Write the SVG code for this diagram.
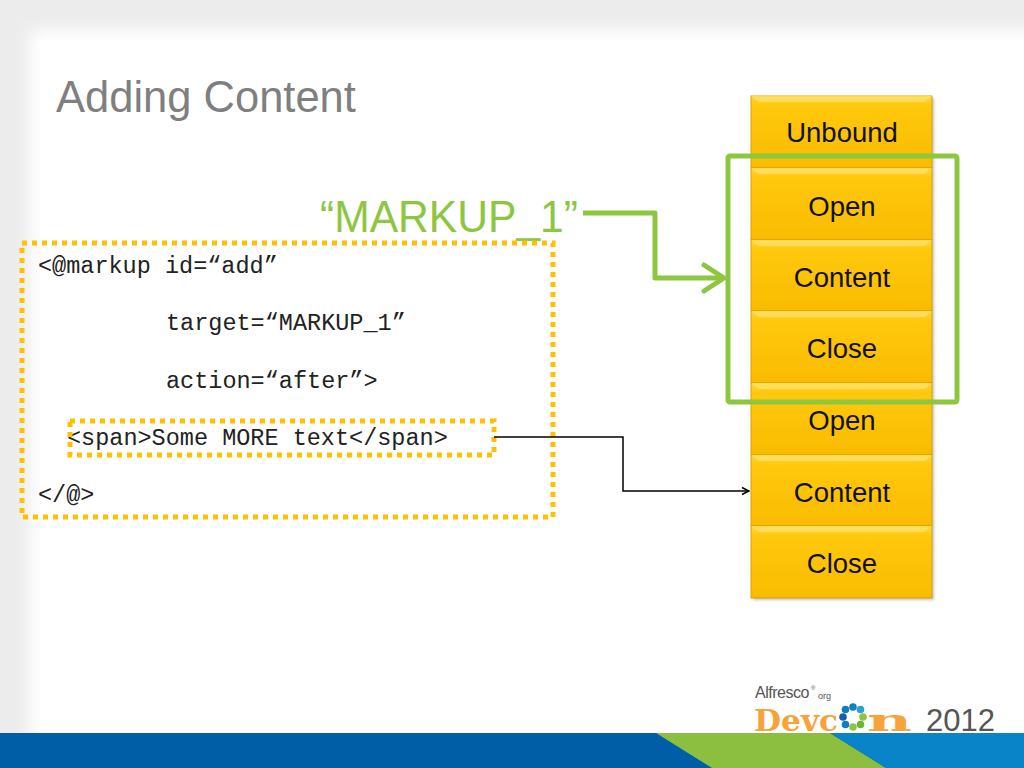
<svg xmlns="http://www.w3.org/2000/svg" width="1024" height="768" viewBox="0 0 1024 768">
<defs>
<linearGradient id="cell" x1="0" y1="0" x2="0" y2="1">
<stop offset="0" stop-color="#ffd84a"/>
<stop offset="0.12" stop-color="#ffc90e"/>
<stop offset="1" stop-color="#f9bb00"/>
</linearGradient>
<filter id="soft" x="-5%" y="-5%" width="110%" height="110%"><feGaussianBlur stdDeviation="8"/></filter>
<filter id="shadow" x="-10%" y="-10%" width="120%" height="120%"><feGaussianBlur stdDeviation="1.5"/></filter>
<marker id="blk" markerWidth="10" markerHeight="10" refX="9" refY="5" orient="auto" markerUnits="userSpaceOnUse">
<path d="M2,1.5 L9,5 L2,8.5" fill="none" stroke="#000" stroke-width="1.5"/>
</marker>
<style>
.code{font-family:"Liberation Mono","DejaVu Sans Mono",monospace;font-size:23.5px;fill:#222}
.cellt{font-family:"Liberation Sans",Arial,sans-serif;font-size:27.5px;fill:#111;text-anchor:middle}
.cellr{fill:url(#cell);stroke:#d9a400;stroke-width:1}
.bevel{fill:#ffe066;opacity:0.8}
.dots{fill:none;stroke:#ffc000;stroke-width:5;stroke-dasharray:5 5}
.logo{font-family:"Liberation Sans",Arial,sans-serif;fill:#555}
.dev{font-family:"DejaVu Serif","Liberation Serif",serif;font-weight:bold;font-size:30px;fill:#f7a23b}
</style>
</defs>
<rect x="0" y="0" width="1024" height="768" fill="#ececec"/>
<rect x="30" y="30" width="1010" height="720" fill="#ffffff" filter="url(#soft)"/>
<rect x="40" y="40" width="990" height="700" fill="#ffffff"/>

<g id="bottom-band">
<rect x="0" y="733" width="1024" height="35" fill="#005ea6"/>
<polygon points="656,733 830,733 886,768 712,768" fill="#8cbf3f"/>
<polygon points="830,733 1024,733 1024,768 886,768" fill="#0a84c8"/>
</g>

<g id="logo">
<text class="logo" x="755" y="698" font-size="16" letter-spacing="-0.5">Alfresco</text>
<text class="logo" x="811" y="690" font-size="6">®</text>
<text class="logo" x="818" y="699" font-size="9">org</text>
<text class="dev" x="754" y="731" textLength="84" lengthAdjust="spacingAndGlyphs">Devc</text>
<g id="gear" transform="translate(853,717)">
<circle cx="0" cy="-10" r="3.8" fill="#0c7fc0"/>
<circle cx="7.5" cy="-7.5" r="3.8" fill="#2a9fd8"/>
<circle cx="10" cy="0" r="3.8" fill="#8cc63f"/>
<circle cx="7.5" cy="7.5" r="3.8" fill="#6cb33f"/>
<circle cx="0" cy="10" r="3.8" fill="#8cc63f"/>
<circle cx="-7.5" cy="7.5" r="3.8" fill="#0c7fc0"/>
<circle cx="-10" cy="0" r="3.8" fill="#1b5ea8"/>
<circle cx="-7.5" cy="-7.5" r="3.8" fill="#0c7fc0"/>
</g>
<text class="dev" x="867" y="731" textLength="45" lengthAdjust="spacingAndGlyphs">n</text>
<text class="logo" x="926" y="731" font-size="31" fill="#666">2012</text>
</g>

<g id="title">
<text x="56" y="112" font-family="Liberation Sans,Arial,sans-serif" font-size="43.5" fill="#7f7f7f">Adding Content</text>
</g>

<g id="markup-label">
<text x="320" y="232" font-family="Liberation Sans,Arial,sans-serif" font-size="45" fill="#8dc63f" textLength="258" lengthAdjust="spacingAndGlyphs">“MARKUP_1”</text>
</g>

<g id="code-block">
<rect class="dots" x="22" y="243" width="531" height="274"/>
<text class="code" x="38" y="273">&lt;@markup id=“add”</text>
<text class="code" x="166" y="330">target=“MARKUP_1”</text>
<text class="code" x="166" y="388">action=“after”&gt;</text>
<text class="code" x="67" y="445">&lt;span&gt;Some MORE text&lt;/span&gt;</text>
<text class="code" x="38" y="502">&lt;/@&gt;</text>
</g>

<g id="span-box">
<rect class="dots" x="70" y="421" width="424" height="34"/>
</g>

<g id="stack">
<g filter="url(#shadow)"><rect x="753" y="98" width="181" height="502" fill="#888" opacity="0.5"/></g>
<g id="cell-unbound">
<rect class="cellr" x="751" y="96" width="181" height="72"/>
<polygon class="bevel" points="751,96 932,96 924,102 759,102"/>
<text class="cellt" x="842" y="142">Unbound</text>
</g>
<g id="cell-open-1">
<rect class="cellr" x="751" y="168" width="181" height="72"/>
<polygon class="bevel" points="751,168 932,168 924,174 759,174"/>
<text class="cellt" x="842" y="216">Open</text>
</g>
<g id="cell-content-1">
<rect class="cellr" x="751" y="240" width="181" height="71"/>
<polygon class="bevel" points="751,240 932,240 924,246 759,246"/>
<text class="cellt" x="842" y="287">Content</text>
</g>
<g id="cell-close-1">
<rect class="cellr" x="751" y="311" width="181" height="72"/>
<polygon class="bevel" points="751,311 932,311 924,317 759,317"/>
<text class="cellt" x="842" y="358">Close</text>
</g>
<g id="cell-open-2">
<rect class="cellr" x="751" y="383" width="181" height="72"/>
<polygon class="bevel" points="751,383 932,383 924,389 759,389"/>
<text class="cellt" x="842" y="430">Open</text>
</g>
<g id="cell-content-2">
<rect class="cellr" x="751" y="455" width="181" height="71"/>
<polygon class="bevel" points="751,455 932,455 924,461 759,461"/>
<text class="cellt" x="842" y="502">Content</text>
</g>
<g id="cell-close-2">
<rect class="cellr" x="751" y="526" width="181" height="72"/>
<polygon class="bevel" points="751,526 932,526 924,532 759,532"/>
<text class="cellt" x="842" y="573">Close</text>
</g>
</g>

<g id="markup1-group">
<rect x="728" y="156" width="229" height="246" rx="2" fill="none" stroke="#8dc63f" stroke-width="5"/>
</g>

<g id="connectors">
<path d="M583,213 L655,213 L655,278 L724,278" fill="none" stroke="#8dc63f" stroke-width="5" stroke-linejoin="round"/>
<path d="M704,265 L724,278 L704,291" fill="none" stroke="#8dc63f" stroke-width="5" stroke-linecap="round" stroke-linejoin="round"/>
<path d="M494,437 L623,437 L623,491 L749,491" fill="none" stroke="#000" stroke-width="1.5" marker-end="url(#blk)"/>
</g>
</svg>
